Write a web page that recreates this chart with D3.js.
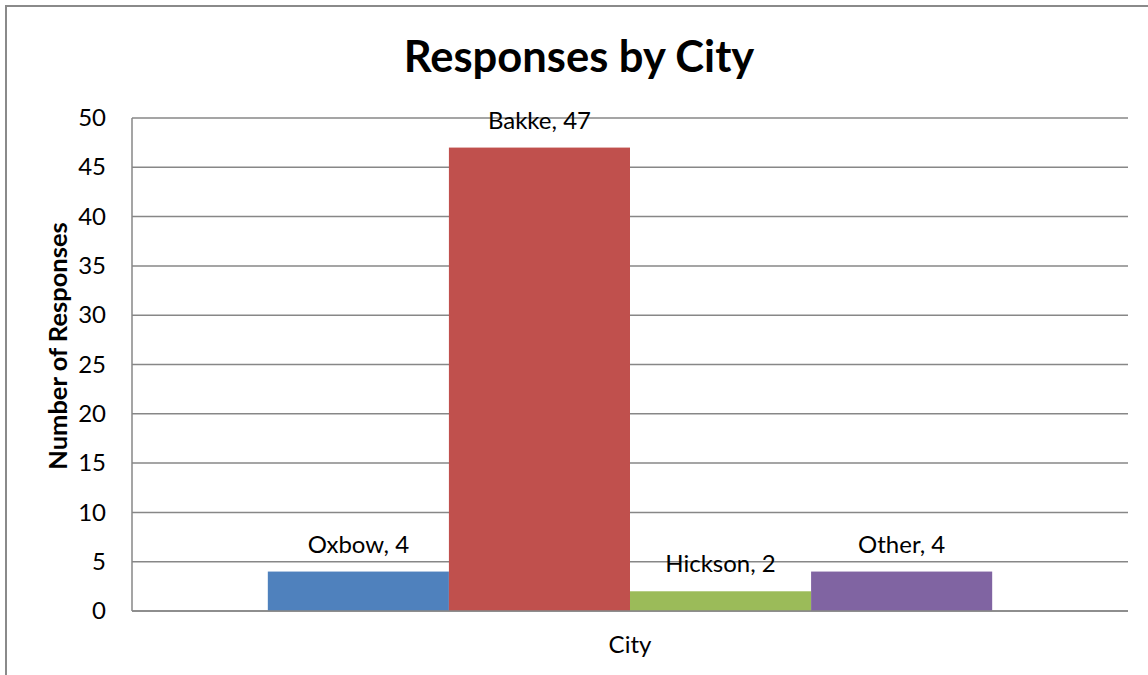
<!DOCTYPE html>
<html>
<head>
<meta charset="utf-8">
<script src="https://cdn.jsdelivr.net/npm/d3@7"></script>
<style>
  html, body { margin: 0; padding: 0; background: #fff; }
  svg { display: block; font-family: Lato, "Noto Sans", sans-serif; }
</style>
</head>
<body>
<svg id="chart" width="1148" height="675"></svg>
<script>
const categories = ["City"];
const seriesNames = ["Oxbow", "Bakke", "Hickson", "Other"];
const seriesValues = [4, 47, 2, 4];
const seriesColors = ["#4F81BD", "#C0504D", "#9BBB59", "#8064A2"];
const yTicks = [0, 5, 10, 15, 20, 25, 30, 35, 40, 45, 50];
const titleText = "Responses by City";
const yTitle = "Number of Responses";

const W = 1148, H = 675;
const plot = { left: 132, right: 1128, top: 118, bottom: 611 };

const svg = d3.select("#chart");

// outer chart border (extends past the right/bottom of the picture)
svg.append("rect")
  .attr("x", 6).attr("y", 6)
  .attr("width", W + 20).attr("height", H + 20)
  .attr("fill", "none").attr("stroke", "#8a8a8a").attr("stroke-width", 2);

const y = d3.scaleLinear().domain([0, 50]).range([plot.bottom, plot.top]);
const x0 = d3.scaleBand().domain(categories).range([plot.left, plot.right])
  .paddingInner(0).paddingOuter(0.1875);
const x1 = d3.scaleBand().domain(seriesNames).range([0, x0.bandwidth()]).padding(0);

// gridlines
svg.append("g").selectAll("line").data(yTicks).join("line")
  .attr("x1", plot.left).attr("x2", plot.right)
  .attr("y1", d => y(d)).attr("y2", d => y(d))
  .attr("stroke", "#878787").attr("stroke-width", 1.5);

// y axis line
svg.append("line")
  .attr("x1", plot.left).attr("x2", plot.left)
  .attr("y1", plot.top).attr("y2", plot.bottom)
  .attr("stroke", "#878787").attr("stroke-width", 1.5);

// y tick labels
const yAxis = d3.axisLeft(y).tickValues(yTicks).tickSize(0).tickPadding(26);
const gy = svg.append("g").attr("transform", `translate(${plot.left},0)`).call(yAxis);
gy.select(".domain").remove();
gy.selectAll("text").attr("font-size", 24).attr("fill", "#000")
  .attr("font-family", "Lato, 'Noto Sans', sans-serif");

// bars
const data = seriesNames.map((s, i) => ({ cat: categories[0], name: s, value: seriesValues[i], color: seriesColors[i] }));
const g = svg.append("g");
g.selectAll("rect").data(data).join("rect")
  .attr("x", d => x0(d.cat) + x1(d.name))
  .attr("y", d => y(d.value))
  .attr("width", x1.bandwidth())
  .attr("height", d => y(0) - y(d.value))
  .attr("fill", d => d.color);

// baseline redrawn on top
svg.append("line")
  .attr("x1", plot.left).attr("x2", plot.right)
  .attr("y1", y(0)).attr("y2", y(0))
  .attr("stroke", "#878787").attr("stroke-width", 1.5);

// data labels
g.selectAll("text.lbl").data(data).join("text")
  .attr("class", "lbl")
  .attr("x", d => x0(d.cat) + x1(d.name) + x1.bandwidth() / 2)
  .attr("y", d => y(d.value) - 19)
  .attr("text-anchor", "middle")
  .attr("font-size", 24)
  .attr("fill", "#000")
  .text(d => `${d.name}, ${d.value}`);

// title
svg.append("text")
  .attr("x", 579).attr("y", 72)
  .attr("text-anchor", "middle")
  .attr("font-size", 43.5).attr("font-weight", "bold")
  .text(titleText);

// y axis title
svg.append("text")
  .attr("transform", `translate(67,346) rotate(-90)`)
  .attr("text-anchor", "middle")
  .attr("font-size", 25.5).attr("font-weight", "bold")
  .text(yTitle);

// x axis title
svg.append("text")
  .attr("x", x0(categories[0]) + x0.bandwidth() / 2).attr("y", 653)
  .attr("text-anchor", "middle")
  .attr("font-size", 24)
  .text(categories[0]);
</script>
</body>
</html>
